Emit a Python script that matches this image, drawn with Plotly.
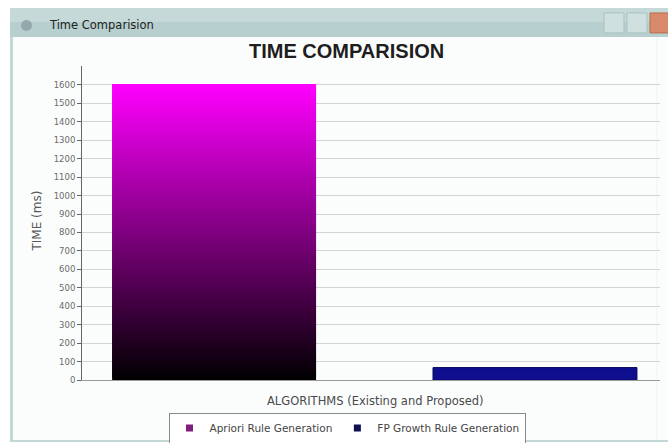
import plotly.graph_objects as go

# ---- data ----
category = ["ALGORITHMS"]
series_names = ["Apriori Rule Generation", "FP Growth Rule Generation"]
apriori_time = [1605]
fpgrowth_time = [68]
y_ticks = list(range(0, 1700, 100))

W, H = 668, 443          # reference pixel grid
FIG_H = 447              # capture is rescaled vertically; compensate
def px(x): return x / W
def py(y): return 1 - y / H

FONT = "DejaVu Sans"
fig = go.Figure()

# gradient bar (magenta top -> black bottom) built from the data value
N = 120
v = apriori_time[0]
step = v / N
cols, bases, hs = [], [], []
for i in range(N):
    t = (i + 0.5) / N
    c = int(round(255 * t))
    cols.append(f"rgb({c},0,{c})")
    bases.append(step * i)
    hs.append(min(step * 2.0, v - step * i))
fig.add_trace(go.Bar(x=category * N, y=hs, base=bases, offsetgroup="a",
                     marker=dict(color=cols, line=dict(width=0)),
                     showlegend=False, hoverinfo="skip"))
fig.add_trace(go.Bar(x=category, y=fpgrowth_time, offsetgroup="b", showlegend=False,
                     marker=dict(color="#0e0e8e", line=dict(color="#07075a", width=1))))
# legend entries (small squares like the original)
fig.add_trace(go.Scatter(x=[None], y=[None], mode="markers", name=series_names[0],
                         marker=dict(symbol="square", size=7, color="#7f1f80")))
fig.add_trace(go.Scatter(x=[None], y=[None], mode="markers", name=series_names[1],
                         marker=dict(symbol="square", size=7, color="#101050")))

shapes = [
    # window frame
    dict(type="rect", xref="paper", yref="paper", x0=px(10), x1=1, y0=0, y1=py(8),
         fillcolor="#c3d8d6", line=dict(width=0), layer="below"),
    dict(type="rect", xref="paper", yref="paper", x0=px(10), x1=1, y0=py(37), y1=py(8),
         fillcolor="#b7cfce", line=dict(width=0), layer="below"),
    dict(type="rect", xref="paper", yref="paper", x0=px(10), x1=1, y0=py(22), y1=py(8),
         fillcolor="#c4d9d8", line=dict(width=0), layer="below"),
    # content panel
    dict(type="rect", xref="paper", yref="paper", x0=px(13), x1=1, y0=py(441), y1=py(37),
         fillcolor="#fbfdfd", line=dict(width=0), layer="below"),
    dict(type="line", xref="paper", yref="paper", x0=px(657), x1=px(657), y0=py(441), y1=py(37),
         line=dict(color="#eef3f3", width=1), layer="below"),
    # title bar buttons
    dict(type="rect", xref="paper", yref="paper", x0=px(604), x1=px(624), y0=py(33), y1=py(13),
         fillcolor="#d0e0df", line=dict(color="#a9c1c1", width=1), layer="below"),
    dict(type="rect", xref="paper", yref="paper", x0=px(627), x1=px(647), y0=py(33), y1=py(13),
         fillcolor="#d0e0df", line=dict(color="#a9c1c1", width=1), layer="below"),
    dict(type="rect", xref="paper", yref="paper", x0=px(650), x1=px(672), y0=py(33), y1=py(13),
         fillcolor="#d98a6a", line=dict(color="#b86a4a", width=1), layer="below"),
    # window icon
    dict(type="circle", xref="paper", yref="paper", x0=px(21), x1=px(32), y0=py(31), y1=py(20),
         fillcolor="#93a9ab", line=dict(width=0)),
]

annotations = [
    dict(text="Time Comparision", x=px(47), y=py(25), xref="paper", yref="paper",
         xanchor="left", yanchor="middle", showarrow=False,
         font=dict(family=FONT, size=11.5, color="#222")),
    dict(text="<b>TIME COMPARISION</b>", x=px(346), y=py(51), xref="paper", yref="paper",
         xanchor="center", yanchor="middle", showarrow=False,
         font=dict(family="Liberation Sans", size=20, color="#1e1e1e")),
    dict(text="TIME (ms)", x=px(37), y=py(222), xref="paper", yref="paper", textangle=-90,
         xanchor="center", yanchor="middle", showarrow=False,
         font=dict(family=FONT, size=12, color="#5a5a5a")),
    dict(text="ALGORITHMS (Existing and Proposed)", x=px(375), y=py(402), xref="paper", yref="paper",
         xanchor="center", yanchor="middle", showarrow=False,
         font=dict(family=FONT, size=11.5, color="#4a4a4a")),
]

fig.update_layout(
    width=W, height=FIG_H, margin=dict(l=0, r=0, t=0, b=0),
    paper_bgcolor="#ffffff", plot_bgcolor="#ffffff",
    barmode="group", bargap=0.0, bargroupgap=0.3645,
    shapes=shapes, annotations=annotations,
    legend=dict(orientation="h", x=px(347), y=py(429), xanchor="center", yanchor="middle",
                bordercolor="#8a8a8a", borderwidth=1, bgcolor="#ffffff",
                font=dict(family=FONT, size=10.5, color="#444"),
                itemwidth=30, tracegroupgap=0),
    xaxis=dict(domain=[px(82), px(660)], range=[-0.4558, 0.4448],
               showticklabels=False, ticks="",
               showline=True, linecolor="#9a9a9a", linewidth=1, showgrid=False,
               anchor="y"),
    yaxis=dict(domain=[py(381), py(66)], range=[0, 1703], tickvals=y_ticks,
               ticks="outside", ticklen=4, tickcolor="#666",
               tickfont=dict(family=FONT, size=8.5, color="#6a6a6a"),
               showline=True, linecolor="#666", linewidth=1,
               showgrid=True, gridcolor="#d4d4d4", gridwidth=1, zeroline=False),
)

post = (
    "document.body.style.margin='0';"
    "var d=document.getElementById('{plot_id}');"
    "d.style.display='block';"
    "if(d.parentElement){d.parentElement.style.display='block';d.parentElement.style.lineHeight='0';}"
)
fig.write_html("out.html", config={"displayModeBar": False}, post_script=post)
